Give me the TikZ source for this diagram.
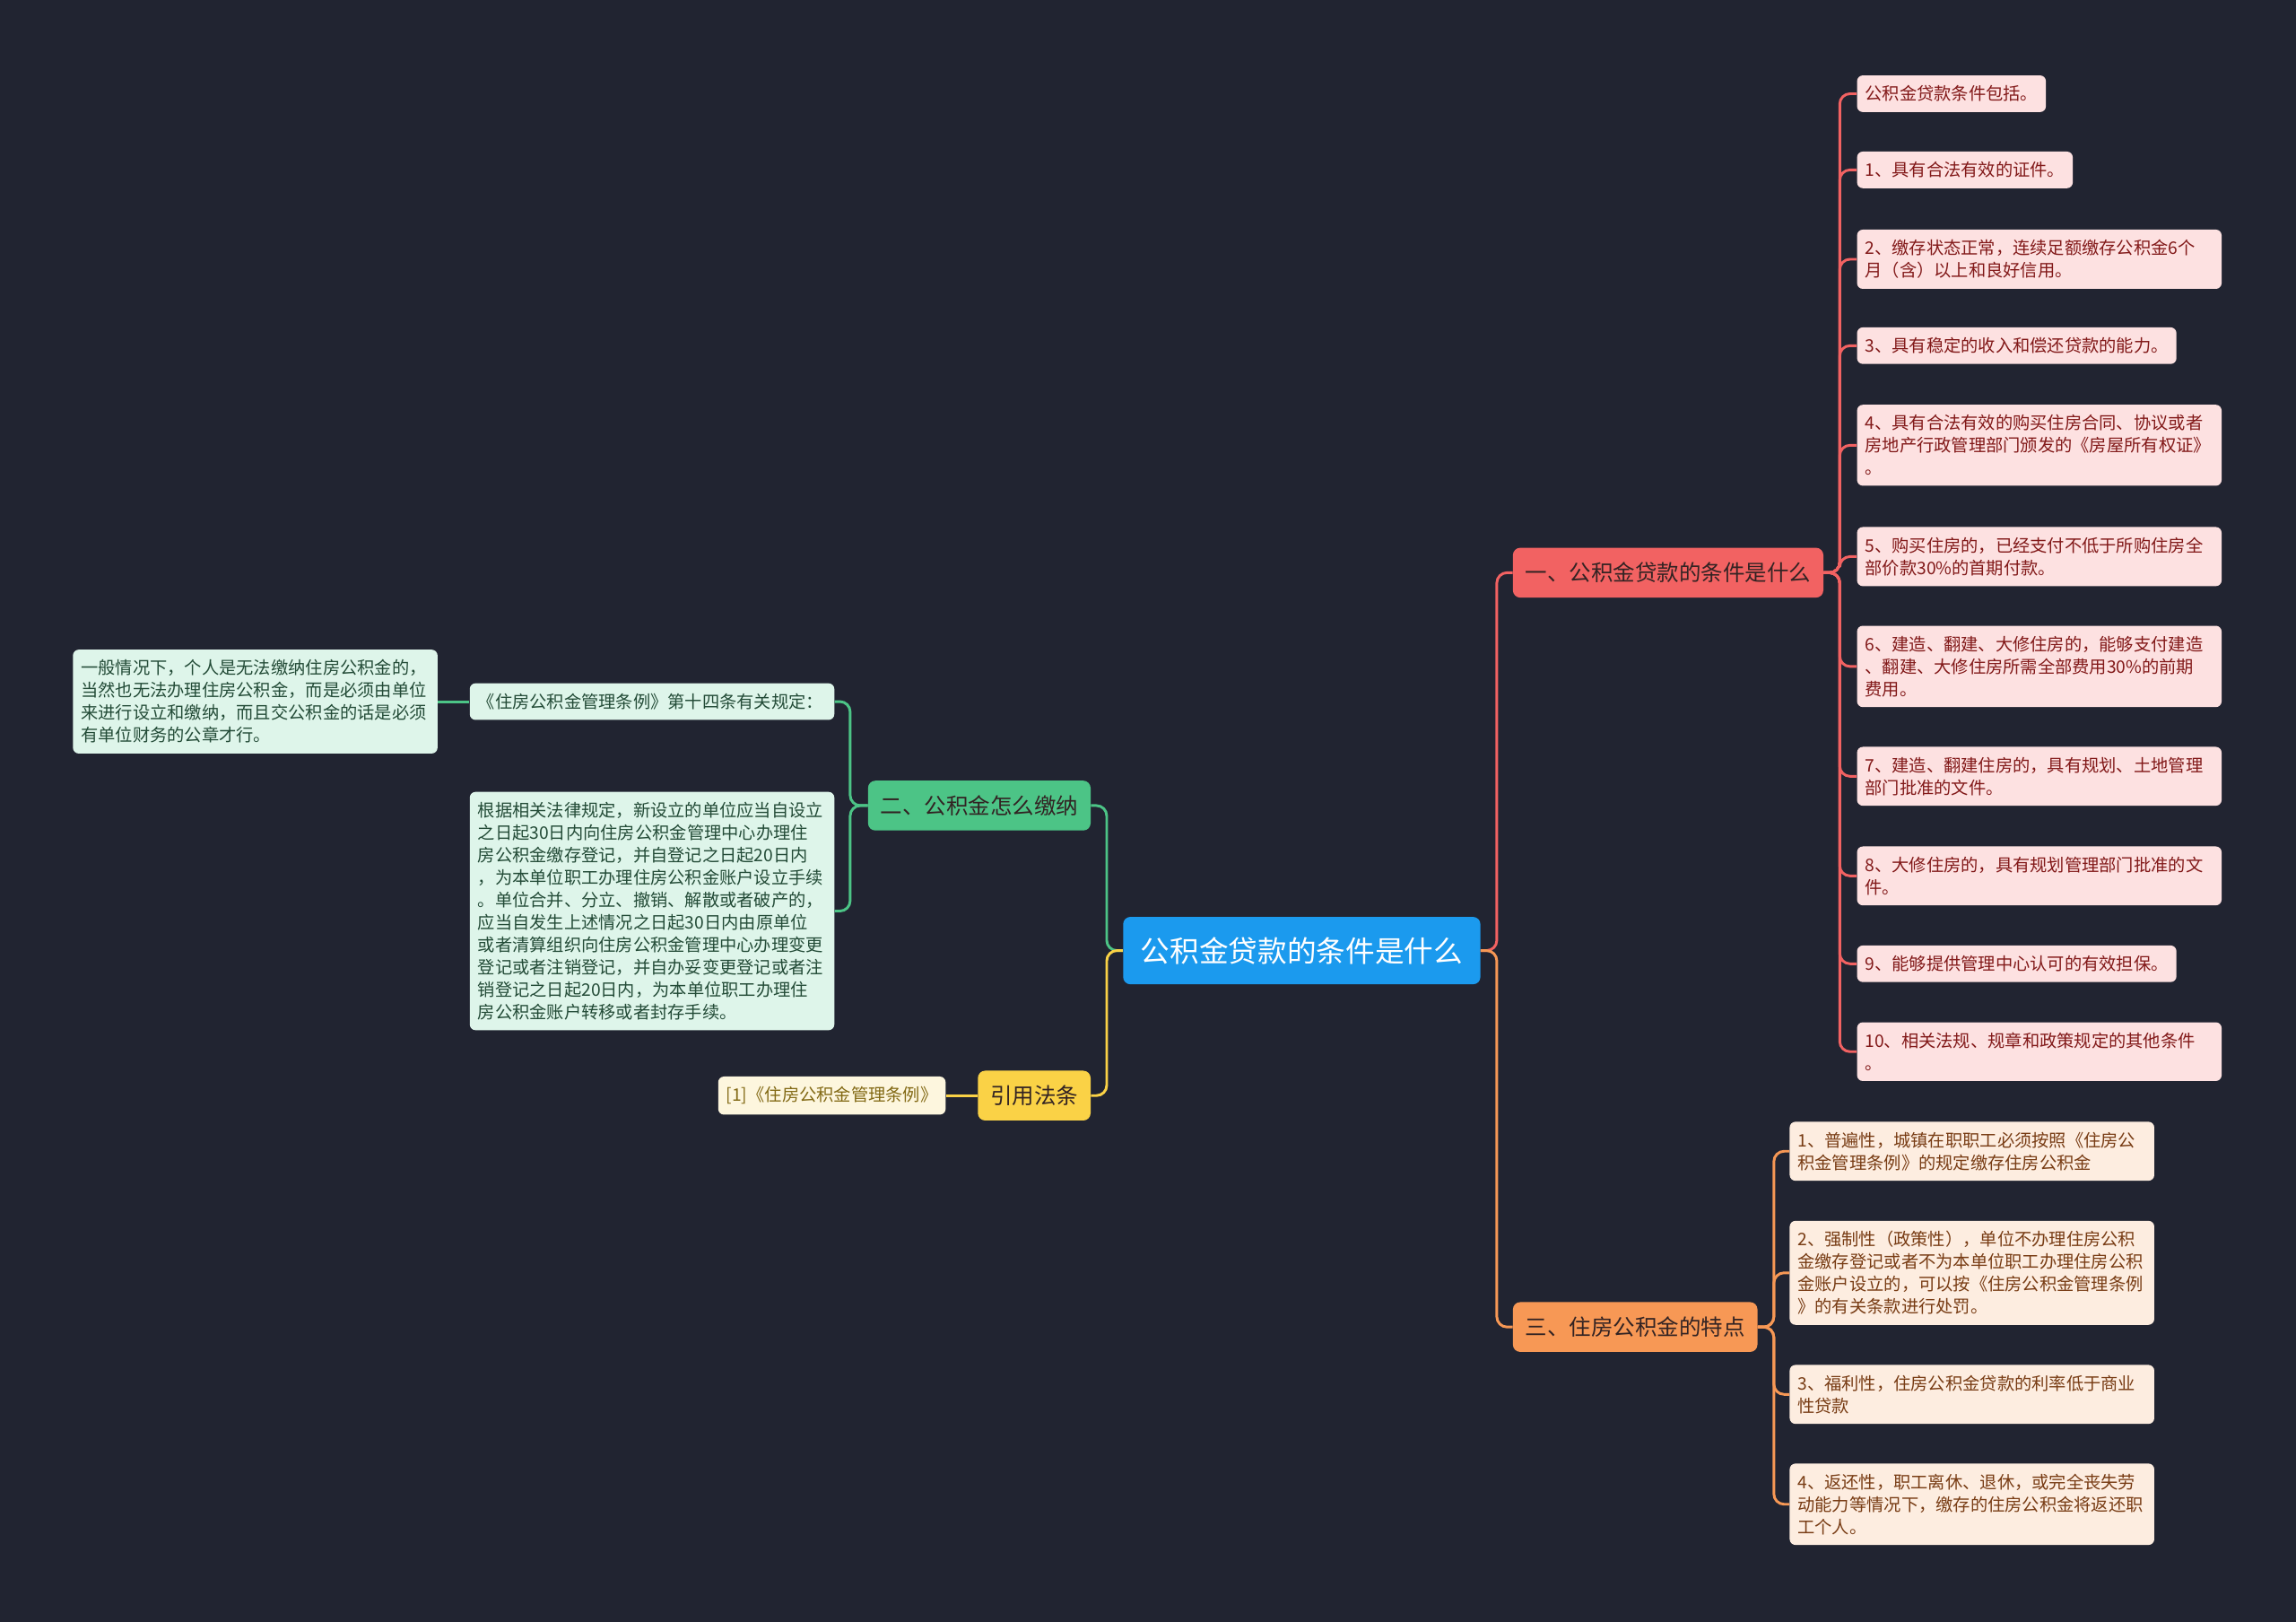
\documentclass[tikz,border=0pt]{standalone}
\usepackage{fontspec}
\newfontfamily\cjk{Noto Sans CJK SC}
\definecolor{bg}{RGB}{33,36,49}
\definecolor{cblue}{RGB}{27,154,238}
\definecolor{cred}{RGB}{242,98,98}
\definecolor{cgreen}{RGB}{76,196,134}
\definecolor{cyellow}{RGB}{250,210,70}
\definecolor{corange}{RGB}{247,152,85}
\definecolor{lred}{RGB}{253,225,225}
\definecolor{tred}{RGB}{130,25,25}
\definecolor{lorange}{RGB}{253,237,224}
\definecolor{torange}{RGB}{120,60,20}
\definecolor{lgreen}{RGB}{222,245,234}
\definecolor{tgreen}{RGB}{35,75,55}
\definecolor{lyellow}{RGB}{253,246,222}
\definecolor{tyellow}{RGB}{130,105,20}
\definecolor{tdark}{RGB}{50,35,35}
\tikzset{
  rootbox/.style={fill=cblue, text=white, rounded corners=5pt, font=\cjk\fontsize{20}{24}\selectfont, inner xsep=11pt, minimum height=46pt, minimum width=244pt},
  branchbox/.style={rounded corners=5pt, text=tdark, font=\cjk\fontsize{15}{18}\selectfont, inner xsep=8.5pt, minimum height=34pt},
  leafbox/.style={rounded corners=4pt, font=\cjk\fontsize{11.8}{15.3}\selectfont, inner xsep=5.5pt, inner ysep=7pt, align=left, minimum height=25pt},
  widebox/.style={text width=238pt},
  redleaf/.style={leafbox, fill=lred, text=tred, anchor=west},
  orleaf/.style={leafbox, fill=lorange, text=torange, anchor=west},
  grleaf/.style={leafbox, fill=lgreen, text=tgreen},
  yeleaf/.style={leafbox, fill=lyellow, text=tyellow},
  conn/.style={line width=1.8pt, rounded corners=7pt}
}
\begin{document}
\begin{tikzpicture}[x=1pt,y=-1pt]
\useasboundingbox (0,0) rectangle (1568,1107);
\fill[bg] (-6,-6) rectangle (1574,1113);

% root
\node[rootbox] (c) at (889,649) {公积金贷款的条件是什么};

% branches
\node[branchbox, fill=cred, anchor=west] (b1) at (1033,391) {一、公积金贷款的条件是什么};
\node[branchbox, fill=cgreen, anchor=east] (b2) at (745,550) {二、公积金怎么缴纳};
\node[branchbox, fill=cyellow, anchor=east] (b3) at (745,748) {引用法条};
\node[branchbox, fill=corange, anchor=west] (b4) at (1033,906) {三、住房公积金的特点};

% red leaves
\node[redleaf] (r0) at (1268,64) {公积金贷款条件包括。};
\node[redleaf] (r1) at (1268,116) {1、具有合法有效的证件。};
\node[redleaf, widebox] (r2) at (1268,177) {2、缴存状态正常，连续足额缴存公积金6个\\月（含）以上和良好信用。};
\node[redleaf] (r3) at (1268,236) {3、具有稳定的收入和偿还贷款的能力。};
\node[redleaf, widebox] (r4) at (1268,304) {4、具有合法有效的购买住房合同、协议或者\\房地产行政管理部门颁发的《房屋所有权证》\\。};
\node[redleaf, widebox] (r5) at (1268,380) {5、购买住房的，已经支付不低于所购住房全\\部价款30\%的首期付款。};
\node[redleaf, widebox] (r6) at (1268,455) {6、建造、翻建、大修住房的，能够支付建造\\、翻建、大修住房所需全部费用30\%的前期\\费用。};
\node[redleaf, widebox] (r7) at (1268,530) {7、建造、翻建住房的，具有规划、土地管理\\部门批准的文件。};
\node[redleaf, widebox] (r8) at (1268,598) {8、大修住房的，具有规划管理部门批准的文\\件。};
\node[redleaf] (r9) at (1268,658) {9、能够提供管理中心认可的有效担保。};
\node[redleaf, widebox] (r10) at (1268,718) {10、相关法规、规章和政策规定的其他条件\\。};

% orange leaves
\node[orleaf, widebox] (o1) at (1222,786) {1、普遍性，城镇在职职工必须按照《住房公\\积金管理条例》的规定缴存住房公积金};
\node[orleaf, widebox] (o2) at (1222,869) {2、强制性（政策性），单位不办理住房公积\\金缴存登记或者不为本单位职工办理住房公积\\金账户设立的，可以按《住房公积金管理条例\\》的有关条款进行处罚。};
\node[orleaf, widebox] (o3) at (1222,952) {3、福利性，住房公积金贷款的利率低于商业\\性贷款};
\node[orleaf, widebox] (o4) at (1222,1027) {4、返还性，职工离休、退休，或完全丧失劳\\动能力等情况下，缴存的住房公积金将返还职\\工个人。};

% green leaves
\node[grleaf, widebox, anchor=east] (g1) at (570,479) {《住房公积金管理条例》第十四条有关规定：};
\node[grleaf, widebox, anchor=east] (g0) at (299,479) {一般情况下，个人是无法缴纳住房公积金的，\\当然也无法办理住房公积金，而是必须由单位\\来进行设立和缴纳，而且交公积金的话是必须\\有单位财务的公章才行。};
\node[grleaf, widebox, anchor=east] (g2) at (570,622) {根据相关法律规定，新设立的单位应当自设立\\之日起30日内向住房公积金管理中心办理住\\房公积金缴存登记，并自登记之日起20日内\\，为本单位职工办理住房公积金账户设立手续\\。单位合并、分立、撤销、解散或者破产的，\\应当自发生上述情况之日起30日内由原单位\\或者清算组织向住房公积金管理中心办理变更\\登记或者注销登记，并自办妥变更登记或者注\\销登记之日起20日内，为本单位职工办理住\\房公积金账户转移或者封存手续。};

% yellow leaf
\node[yeleaf, anchor=east] (y1) at (646,748) {[1]《住房公积金管理条例》};

% root connectors
\draw[conn, cred] (c.east) -- ++(11,0) |- (b1.west);
\draw[conn, corange] (c.east) -- ++(11,0) |- (b4.west);
\draw[conn, cgreen] (c.west) -- ++(-11,0) |- (b2.east);
\draw[conn, cyellow] (c.west) -- ++(-11,0) |- (b3.east);

% red connectors
\foreach \n in {r0,r1,r2,r3,r4,r5,r6,r7,r8,r9,r10}
  \draw[conn, cred] (b1.east) -- ++(11,0) |- (\n.west);

% orange connectors
\foreach \n in {o1,o2,o3,o4}
  \draw[conn, corange] (b4.east) -- ++(11,0) |- (\n.west);

% green connectors
\draw[conn, cgreen] (b2.west) -- ++(-12,0) |- (g1.east);
\draw[conn, cgreen] (b2.west) -- ++(-12,0) |- (g2.east);
\draw[conn, cgreen] (g1.west) -- (g0.east);

% yellow connector
\draw[conn, cyellow] (b3.west) -- (y1.east);
\end{tikzpicture}
\end{document}
